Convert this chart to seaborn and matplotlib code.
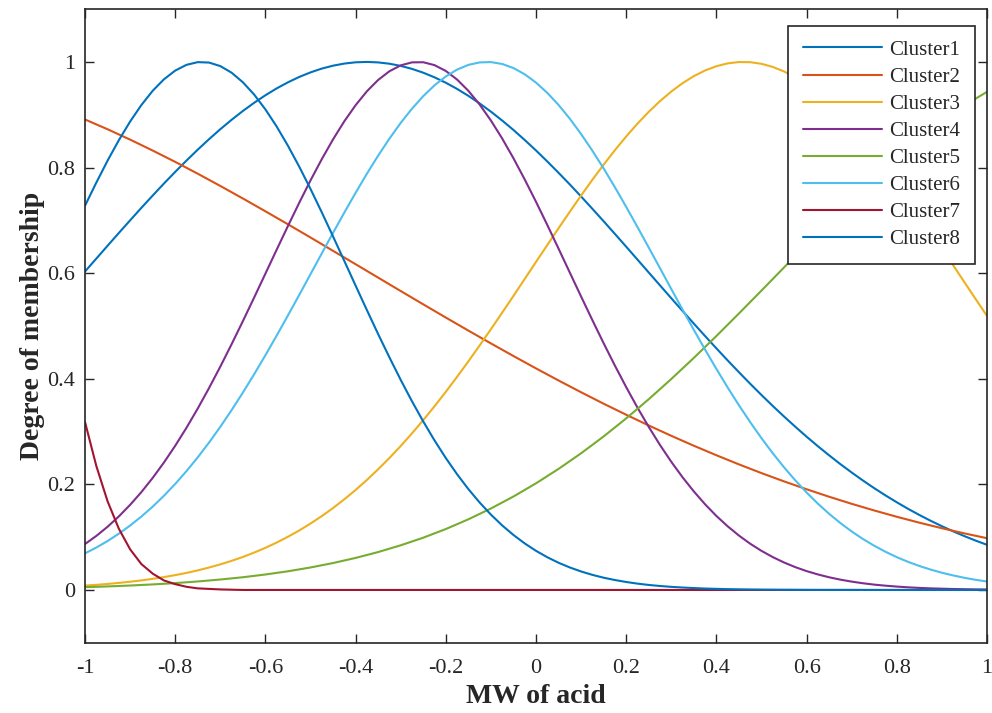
import matplotlib
matplotlib.use("Agg")
import matplotlib.pyplot as plt
import seaborn as sns

# ---------------- data ----------------
# fine sampling grid (step 0.025) for the strongly curved memberships
x_fine = [-1.000, -0.975, -0.950, -0.925, -0.900, -0.875, -0.850, -0.825, -0.800, -0.775,
          -0.750, -0.725, -0.700, -0.675, -0.650, -0.625, -0.600, -0.575, -0.550, -0.525,
          -0.500, -0.475, -0.450, -0.425, -0.400, -0.375, -0.350, -0.325, -0.300, -0.275,
          -0.250, -0.225, -0.200, -0.175, -0.150, -0.125, -0.100, -0.075, -0.050, -0.025,
          0.000, 0.025, 0.050, 0.075, 0.100, 0.125, 0.150, 0.175, 0.200, 0.225,
          0.250, 0.275, 0.300, 0.325, 0.350, 0.375, 0.400, 0.425, 0.450, 0.475,
          0.500, 0.525, 0.550, 0.575, 0.600, 0.625, 0.650, 0.675, 0.700, 0.725,
          0.750, 0.775, 0.800, 0.825, 0.850, 0.875, 0.900, 0.925, 0.950, 0.975,
          1.000]
# coarse sampling grid (step 0.05) for the gently curved memberships
x_coarse = [-1.00, -0.95, -0.90, -0.85, -0.80, -0.75, -0.70, -0.65, -0.60, -0.55,
            -0.50, -0.45, -0.40, -0.35, -0.30, -0.25, -0.20, -0.15, -0.10, -0.05,
            0.00, 0.05, 0.10, 0.15, 0.20, 0.25, 0.30, 0.35, 0.40, 0.45,
            0.50, 0.55, 0.60, 0.65, 0.70, 0.75, 0.80, 0.85, 0.90, 0.95, 1.00]
x_cluster7 = [-1.000, -0.975, -0.950, -0.925, -0.900, -0.875, -0.850, -0.825, -0.800,
              -0.775, -0.750, -0.725, -0.700, -0.650, -0.600, -0.500, 0.000, 0.500, 1.000]

cluster1 = [0.6031, 0.6275, 0.6519, 0.6761, 0.7000, 0.7237, 0.7469, 0.7697, 0.7918, 0.8132,
            0.8339, 0.8537, 0.8726, 0.8904, 0.9071, 0.9226, 0.9369, 0.9499, 0.9614, 0.9716,
            0.9802, 0.9874, 0.9929, 0.9969, 0.9993, 1.0000, 0.9991, 0.9966, 0.9925, 0.9868,
            0.9796, 0.9708, 0.9606, 0.9489, 0.9358, 0.9214, 0.9058, 0.8890, 0.8711, 0.8521,
            0.8323, 0.8115, 0.7900, 0.7679, 0.7451, 0.7218, 0.6982, 0.6742, 0.6500, 0.6256,
            0.6011, 0.5767, 0.5524, 0.5283, 0.5043, 0.4807, 0.4575, 0.4346, 0.4123, 0.3904,
            0.3691, 0.3484, 0.3284, 0.3090, 0.2902, 0.2722, 0.2549, 0.2382, 0.2224, 0.2072,
            0.1927, 0.1790, 0.1660, 0.1536, 0.1420, 0.1310, 0.1207, 0.1110, 0.1019, 0.0934,
            0.0855]
cluster2 = [0.8910, 0.8725, 0.8529, 0.8322, 0.8107, 0.7883, 0.7651, 0.7414, 0.7171, 0.6925,
            0.6675, 0.6422, 0.6169, 0.5915, 0.5661, 0.5409, 0.5159, 0.4912, 0.4669, 0.4430,
            0.4196, 0.3967, 0.3744, 0.3527, 0.3318, 0.3115, 0.2919, 0.2731, 0.2551, 0.2378,
            0.2213, 0.2056, 0.1907, 0.1765, 0.1631, 0.1505, 0.1386, 0.1274, 0.1169, 0.1071,
            0.0980]
cluster3 = [0.0083, 0.0097, 0.0114, 0.0134, 0.0156, 0.0181, 0.0211, 0.0244, 0.0281, 0.0323,
            0.0371, 0.0425, 0.0485, 0.0551, 0.0625, 0.0708, 0.0798, 0.0898, 0.1008, 0.1127,
            0.1258, 0.1399, 0.1552, 0.1717, 0.1894, 0.2084, 0.2286, 0.2500, 0.2727, 0.2966,
            0.3217, 0.3480, 0.3753, 0.4037, 0.4330, 0.4631, 0.4939, 0.5252, 0.5570, 0.5891,
            0.6213, 0.6533, 0.6851, 0.7164, 0.7471, 0.7769, 0.8056, 0.8330, 0.8589, 0.8832,
            0.9056, 0.9259, 0.9440, 0.9598, 0.9732, 0.9839, 0.9919, 0.9973, 0.9998, 0.9995,
            0.9964, 0.9905, 0.9819, 0.9707, 0.9569, 0.9406, 0.9220, 0.9012, 0.8785, 0.8539,
            0.8276, 0.7999, 0.7710, 0.7410, 0.7102, 0.6788, 0.6470, 0.6148, 0.5826, 0.5506,
            0.5189]
cluster4 = [0.0870, 0.1023, 0.1197, 0.1393, 0.1612, 0.1854, 0.2122, 0.2414, 0.2731, 0.3072,
            0.3437, 0.3824, 0.4230, 0.4654, 0.5091, 0.5538, 0.5991, 0.6445, 0.6894, 0.7333,
            0.7757, 0.8159, 0.8534, 0.8877, 0.9181, 0.9444, 0.9659, 0.9824, 0.9935, 0.9992,
            0.9994, 0.9939, 0.9829, 0.9666, 0.9453, 0.9193, 0.8890, 0.8549, 0.8175, 0.7773,
            0.7351, 0.6912, 0.6463, 0.6009, 0.5556, 0.5109, 0.4671, 0.4247, 0.3840, 0.3452,
            0.3087, 0.2744, 0.2426, 0.2133, 0.1865, 0.1621, 0.1401, 0.1205, 0.1030, 0.0875,
            0.0740, 0.0622, 0.0520, 0.0432, 0.0357, 0.0294, 0.0240, 0.0195, 0.0158, 0.0127,
            0.0101, 0.0081, 0.0064, 0.0050, 0.0039, 0.0030, 0.0024, 0.0018, 0.0014, 0.0010,
            0.0008]
cluster5 = [0.0053, 0.0067, 0.0084, 0.0105, 0.0130, 0.0161, 0.0198, 0.0241, 0.0293, 0.0354,
            0.0426, 0.0510, 0.0607, 0.0718, 0.0846, 0.0990, 0.1154, 0.1338, 0.1543, 0.1770,
            0.2020, 0.2293, 0.2589, 0.2908, 0.3250, 0.3613, 0.3996, 0.4396, 0.4810, 0.5237,
            0.5671, 0.6109, 0.6547, 0.6980, 0.7402, 0.7809, 0.8195, 0.8555, 0.8885, 0.9179,
            0.9434]
cluster6 = [0.0693, 0.0803, 0.0927, 0.1066, 0.1220, 0.1391, 0.1578, 0.1784, 0.2008, 0.2251,
            0.2512, 0.2792, 0.3090, 0.3406, 0.3738, 0.4085, 0.4446, 0.4818, 0.5200, 0.5588,
            0.5981, 0.6374, 0.6764, 0.7148, 0.7522, 0.7883, 0.8226, 0.8548, 0.8846, 0.9115,
            0.9353, 0.9558, 0.9725, 0.9855, 0.9944, 0.9991, 0.9997, 0.9961, 0.9884, 0.9766,
            0.9608, 0.9414, 0.9185, 0.8924, 0.8634, 0.8318, 0.7981, 0.7625, 0.7254, 0.6872,
            0.6483, 0.6091, 0.5698, 0.5308, 0.4924, 0.4549, 0.4185, 0.3833, 0.3497, 0.3177,
            0.2873, 0.2588, 0.2322, 0.2074, 0.1845, 0.1634, 0.1441, 0.1266, 0.1107, 0.0964,
            0.0837, 0.0723, 0.0621, 0.0532, 0.0454, 0.0386, 0.0326, 0.0275, 0.0230, 0.0192,
            0.0160]
cluster7 = [0.318, 0.235, 0.168, 0.116, 0.077, 0.049, 0.031, 0.018, 0.011,
            0.006, 0.003, 0.002, 0.001, 0.000, 0.000, 0.000, 0.000, 0.000, 0.000]
cluster8 = [0.7277, 0.7714, 0.8130, 0.8518, 0.8871, 0.9184, 0.9453, 0.9671, 0.9836, 0.9945,
            0.9996, 0.9988, 0.9921, 0.9796, 0.9615, 0.9382, 0.9101, 0.8776, 0.8412, 0.8016,
            0.7594, 0.7151, 0.6694, 0.6230, 0.5763, 0.5300, 0.4845, 0.4404, 0.3978, 0.3573,
            0.3190, 0.2831, 0.2498, 0.2191, 0.1910, 0.1656, 0.1427, 0.1222, 0.1041, 0.0881,
            0.0741, 0.0620, 0.0515, 0.0426, 0.0350, 0.0286, 0.0232, 0.0188, 0.0151, 0.0120,
            0.0095, 0.0075, 0.0059, 0.0046, 0.0036, 0.0027, 0.0021, 0.0016, 0.0012, 0.0009,
            0.0007, 0.0005, 0.0004, 0.0003, 0.0002, 0.0001, 0.0001, 0.0001, 0.0001, 0.0000,
            0.0000, 0.0000, 0.0000, 0.0000, 0.0000, 0.0000, 0.0000, 0.0000, 0.0000, 0.0000,
            0.0000]

labels = ["Cluster1", "Cluster2", "Cluster3", "Cluster4",
          "Cluster5", "Cluster6", "Cluster7", "Cluster8"]
colors = ["#0072BD", "#D95319", "#EDB120", "#7E2F8E",
          "#77AC30", "#4DBEEE", "#A2142F", "#0072BD"]

xtick_vals = [-1, -0.8, -0.6, -0.4, -0.2, 0, 0.2, 0.4, 0.6, 0.8, 1]
xtick_labels = ["-1", "-0.8", "-0.6", "-0.4", "-0.2", "0", "0.2", "0.4", "0.6", "0.8", "1"]
ytick_vals = [0, 0.2, 0.4, 0.6, 0.8, 1]
ytick_labels = ["0", "0.2", "0.4", "0.6", "0.8", "1"]

# ---------------- style ----------------
sns.set_style("white")
plt.rcParams["font.family"] = ["Liberation Serif", "DejaVu Serif"]

fig = plt.figure(figsize=(9.92, 7.13), dpi=100)
ax = fig.add_axes([0.0857, 0.0985, 0.9093, 0.8887])

series = [(x_fine, cluster1), (x_coarse, cluster2), (x_fine, cluster3), (x_fine, cluster4),
          (x_coarse, cluster5), (x_fine, cluster6), (x_cluster7, cluster7), (x_fine, cluster8)]
for (xs, ys), lab, col in zip(series, labels, colors):
    sns.lineplot(x=xs, y=ys, ax=ax, color=col, linewidth=1.5, label=lab,
                 estimator=None, sort=False, solid_joinstyle="round")

ax.set_xlim(-1, 1)
ax.set_ylim(-0.1, 1.1)
ax.set_xticks(xtick_vals)
ax.set_xticklabels(xtick_labels)
ax.set_yticks(ytick_vals)
ax.set_yticklabels(ytick_labels)

axis_col = "#262626"
for sp in ax.spines.values():
    sp.set_visible(True)
    sp.set_color(axis_col)
    sp.set_linewidth(1.2)
ax.tick_params(axis="both", which="major", direction="in", length=6.5, width=1.0,
               color=axis_col, labelcolor="#262626", labelsize=16,
               top=True, right=True, bottom=True, left=True)
ax.tick_params(axis="x", pad=11.5)
ax.tick_params(axis="y", pad=7)

ax.set_xlabel("MW of acid", fontsize=20, fontweight="bold", labelpad=4.5, color="#262626")
ax.set_ylabel("Degree of membership", fontsize=20, fontweight="bold", labelpad=2, color="#262626")

leg = ax.legend(loc="upper right", bbox_to_anchor=(0.9867, 0.974), borderaxespad=0,
                fontsize=15, frameon=True, fancybox=False, shadow=False, framealpha=1,
                edgecolor=axis_col, handlelength=3.8, handletextpad=0.35,
                labelspacing=0.36, borderpad=0.7)
leg.get_frame().set_linewidth(1.2)

fig.savefig("out.png", dpi=100)
